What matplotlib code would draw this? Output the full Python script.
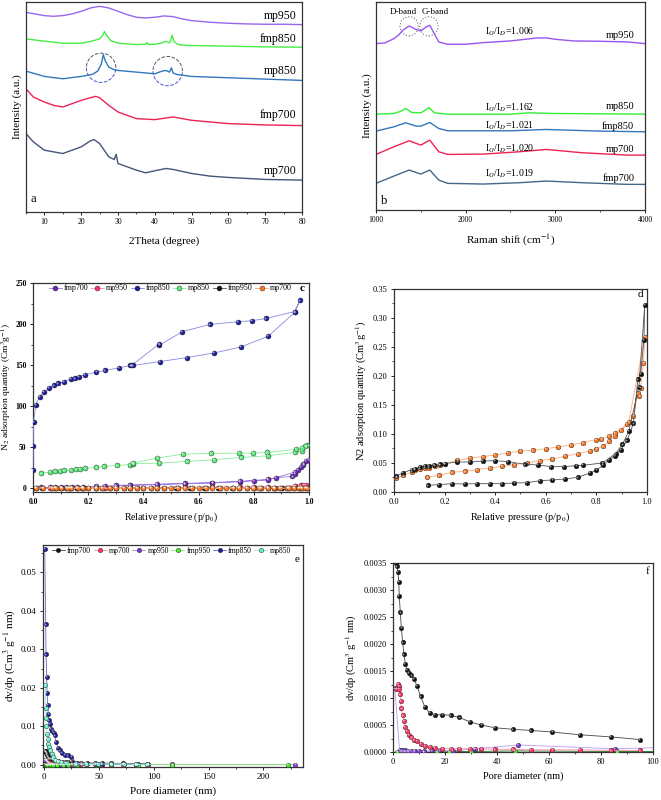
import matplotlib
matplotlib.use('Agg')
import matplotlib.pyplot as plt
from matplotlib.patches import Ellipse, Arc
from matplotlib.transforms import ScaledTranslation
from matplotlib.ticker import AutoMinorLocator, FormatStrFormatter, NullLocator

plt.rcParams['font.family'] = ['Liberation Serif', 'DejaVu Serif']
plt.rcParams['mathtext.fontset'] = 'stix'

# ---------------- Panel a : XRD (arbitrary offset intensity) ----------------
xrd_mp950_x = [5, 7.5, 10, 12.5, 15, 17.5, 20, 22.5, 25, 27.5, 30, 32.5, 35, 37.5, 40, 42.5, 45, 47.5, 50, 55, 60, 65, 70, 75, 80]
xrd_mp950_y = [605, 600, 595, 593, 595, 600, 608, 618, 623, 618, 608, 598, 590, 588, 590, 594, 592, 585, 580, 575, 572, 570, 569, 569, 568]
xrd_fmp850_x = [5, 10, 15, 20, 22.5, 25, 25.8, 26.3, 27, 28, 30, 35, 37.5, 37.8, 38.3, 40, 42, 43, 43.8, 44.3, 44.7, 45.2, 46, 47, 50, 60, 70, 80]
xrd_fmp850_y = [525, 518, 512, 512, 517, 525, 535, 547, 535, 520, 512, 508, 509, 514, 508, 509, 513, 518, 513, 518, 536, 518, 510, 507, 505, 503, 501, 500]
xrd_mp850_x = [5, 10, 15, 20, 23, 24.5, 25.5, 26, 26.5, 27.5, 29, 30, 35, 40, 42, 43, 44, 44.5, 45, 46, 50, 60, 70, 80]
xrd_mp850_y = [428, 412, 405, 412, 418, 428, 450, 478, 460, 440, 432, 430, 425, 420, 428, 430, 425, 438, 422, 418, 412, 408, 404, 400]
xrd_fmp700_x = [5, 7, 10, 12.5, 15, 17.5, 20, 22.5, 24, 25, 27.5, 30, 35, 40, 45, 50, 55, 60, 70, 80]
xrd_fmp700_y = [375, 350, 335, 325, 320, 330, 340, 348, 352, 348, 325, 305, 285, 282, 290, 280, 275, 270, 266, 264]
xrd_mp700_x = [5, 7, 10, 12.5, 15, 17.5, 20, 22.5, 23.5, 25, 27.5, 29, 29.5, 30, 35, 37.5, 40, 43, 45, 50, 55, 60, 70, 80]
xrd_mp700_y = [240, 215, 190, 185, 180, 190, 200, 218, 222, 210, 170, 162, 178, 150, 130, 122, 128, 135, 132, 120, 112, 108, 102, 100]
xrd_labels = ['mp950', 'fmp850', 'mp850', 'fmp700', 'mp700']
xrd_label_y = [595, 525, 428, 295, 128]

# ---------------- Panel b : Raman ----------------
ram_mp950_x = [1000, 1100, 1200, 1250, 1300, 1370, 1450, 1500, 1560, 1600, 1650, 1700, 1800, 2000, 2200, 2500, 2800, 2900, 3000, 3200, 3500, 3800, 4000]
ram_mp950_y = [500, 502, 515, 525, 540, 553, 542, 538, 550, 555, 530, 505, 498, 498, 503, 508, 517, 517, 513, 508, 507, 505, 500]
ram_mp850_x = [1000, 1200, 1280, 1330, 1400, 1500, 1550, 1590, 1650, 1800, 2500, 2700, 3000, 4000]
ram_mp850_y = [288, 290, 297, 305, 293, 292, 300, 308, 292, 288, 288, 292, 290, 288]
ram_fmp850_x = [1000, 1200, 1330, 1450, 1500, 1600, 1700, 1800, 2500, 2900, 3500, 4000]
ram_fmp850_y = [237, 250, 262, 252, 252, 263, 245, 238, 238, 242, 237, 235]
ram_mp700_x = [1000, 1200, 1370, 1500, 1600, 1700, 1800, 2200, 2600, 2900, 3300, 3800, 4000]
ram_mp700_y = [167, 190, 208, 195, 210, 175, 167, 168, 175, 182, 172, 165, 165]
ram_fmp700_x = [1000, 1200, 1370, 1500, 1600, 1700, 1800, 2200, 2600, 2900, 3300, 3800, 4000]
ram_fmp700_y = [80, 102, 120, 108, 120, 90, 80, 78, 82, 87, 82, 77, 77]
ram_labels = ['mp950', 'mp850', 'fmp850', 'mp700', 'fmp700']
ram_label_y = [525, 310, 252, 183, 95]
ram_ratios = ['1.006', '1.162', '1.021', '1.020', '1.019']
ram_ratio_y = [535, 308, 252, 185, 110]

# ---------------- Panel c / d : N2 isotherms ----------------
iso_fmp850_x = [0.0, 0.001, 0.002, 0.01, 0.024, 0.04, 0.058, 0.075, 0.091, 0.111, 0.136, 0.151, 0.167, 0.188, 0.23, 0.26, 0.312, 0.353, 0.363,
                0.46, 0.558, 0.657, 0.753, 0.852, 0.948, 0.967, 0.948, 0.845, 0.793, 0.742, 0.642, 0.541, 0.458, 0.456, 0.357]
iso_fmp850_y = [22.7, 51.8, 80.5, 102, 111.7, 117.3, 122, 125.4, 127.8, 130, 133, 134, 136, 138.3, 141.6, 143.6, 146.8, 149.7, 149.7,
                154.5, 159.4, 165, 172.3, 185.3, 214.4, 229, 215.5, 207, 204.3, 203, 199.8, 191, 174.4, 175.6, 149.7]
iso_mp850_x = [0.03, 0.06, 0.079, 0.097, 0.111, 0.136, 0.157, 0.17, 0.188, 0.23, 0.257, 0.303, 0.351, 0.363, 0.458, 0.557, 0.654, 0.753, 0.85,
               0.948, 0.975, 0.993, 0.987, 0.975, 0.954, 0.848, 0.796, 0.745, 0.644, 0.542, 0.451, 0.363]
iso_mp850_y = [18.2, 19.8, 20.6, 21.4, 21.8, 22.7, 23, 23.5, 24.3, 25.5, 26.7, 27.9, 29, 30, 30.7, 32.8, 34.8, 37.6, 39.6,
               43.7, 46, 52.2, 51, 49, 47.7, 43.7, 42.9, 42.9, 42.5, 41.7, 36.8, 31]
iso_fmp700_x = [0.03, 0.06, 0.08, 0.1, 0.12, 0.14, 0.16, 0.18, 0.23, 0.26, 0.3, 0.35, 0.45, 0.55, 0.65, 0.75, 0.8, 0.85, 0.88, 0.94, 0.95,
                0.96, 0.97, 0.98, 0.99, 1.0, 0.98, 0.95, 0.85, 0.75, 0.65, 0.55, 0.45, 0.35, 0.3]
iso_fmp700_y = [1, 1.2, 1.4, 1.5, 1.6, 1.8, 2, 2.1, 2.4, 2.6, 3, 3.5, 4.5, 5.5, 6.5, 8, 9.5, 11, 13, 14.5, 18,
                22, 26, 30, 33, 35, 28, 20, 10, 8.5, 7, 6, 5, 4, 3.5]
iso_mp950_x = [0.01, 0.06, 0.08, 0.1, 0.13, 0.16, 0.18, 0.23, 0.26, 0.3, 0.35, 0.45, 0.55, 0.65, 0.75, 0.8, 0.85, 0.95, 0.97, 0.99, 0.98, 0.95]
iso_mp950_y = [0.2, 0.3, 0.3, 0.4, 0.4, 0.5, 0.5, 0.6, 0.6, 0.7, 0.8, 0.9, 1.0, 1.2, 1.5, 1.7, 2.0, 3.0, 3.5, 4.5, 4.0, 3.0]
iso_fmp950_x = [0.133, 0.178, 0.229, 0.279, 0.328, 0.378, 0.428, 0.476, 0.525, 0.576, 0.626, 0.676, 0.726, 0.775, 0.800, 0.826, 0.850,
                0.874, 0.896, 0.922, 0.946, 0.964, 0.975, 0.988, 0.991,
                0.968, 0.928, 0.903, 0.876, 0.824, 0.747, 0.721, 0.671, 0.620, 0.570, 0.518, 0.450, 0.400, 0.351, 0.301, 0.251,
                0.201, 0.180, 0.159, 0.139, 0.121, 0.103, 0.083, 0.070, 0.034, 0.010]
iso_fmp950_y = [0.0115, 0.0126, 0.0144, 0.0138, 0.0144, 0.0144, 0.0144, 0.0155, 0.0160, 0.0195, 0.0207, 0.0224, 0.0253, 0.0328, 0.0374,
                0.0460, 0.0550, 0.0626, 0.0730, 0.0890, 0.1180, 0.1940, 0.2035, 0.2615, 0.3220,
                0.1816, 0.1046, 0.0820, 0.0660, 0.0500, 0.0460, 0.0454, 0.0437, 0.0437, 0.0466, 0.0477, 0.0523, 0.0540, 0.0534, 0.0517,
                0.0517, 0.0489, 0.0477, 0.0466, 0.0454, 0.0443, 0.0431, 0.0397, 0.0385, 0.0328, 0.0270]
iso_mp700_x = [0.132, 0.178, 0.229, 0.279, 0.328, 0.378, 0.428, 0.476, 0.525, 0.576, 0.626, 0.676, 0.726, 0.775, 0.800, 0.826, 0.850,
               0.874, 0.922, 0.946, 0.964, 0.970, 0.975, 0.986, 0.991,
               0.928, 0.896, 0.872, 0.850, 0.820, 0.797, 0.747, 0.699, 0.650, 0.600, 0.550, 0.500, 0.450, 0.400, 0.351, 0.301,
               0.251, 0.201, 0.182, 0.162, 0.139, 0.122, 0.103, 0.083, 0.070, 0.037, 0.010]
iso_mp700_y = [0.0253, 0.0287, 0.0339, 0.0356, 0.0385, 0.0414, 0.0443, 0.0471, 0.0500, 0.0540, 0.0569, 0.0615, 0.0661, 0.0707, 0.0747,
               0.0787, 0.0874, 0.0960, 0.1170, 0.1310, 0.1700, 0.1650, 0.1790, 0.2220, 0.2667,
               0.1207, 0.1075, 0.1023, 0.0960, 0.0914, 0.0902, 0.0850, 0.0810, 0.0776, 0.0747, 0.0718, 0.0707, 0.0672, 0.0638,
               0.0610, 0.0586, 0.0546, 0.0489, 0.0466, 0.0443, 0.0420, 0.0414, 0.0397, 0.0385, 0.0345, 0.0287, 0.0236]

# ---------------- Panel e / f : pore size distribution ----------------
psd_fmp850_x = [0.6, 1.5, 1.8, 2.4, 2.7, 3.3, 3.9, 4.5, 5.4, 6.3, 7.5, 8.8, 9.7, 10.9, 12.7, 14.2, 16, 18.7, 21.8, 24.8, 30, 38, 47, 53, 61, 73, 84, 94]
psd_fmp850_y = [0.0561, 0.0365, 0.0287, 0.0228, 0.0187, 0.0156, 0.0133, 0.0115, 0.0107, 0.0094, 0.0088, 0.0083, 0.0076, 0.0059, 0.0044,
                0.0037, 0.0031, 0.0026, 0.0024, 0.0021, 0.0004, 0.0003, 0.0003, 0.0003, 0.0002, 0.0002, 0.0001, 0.0001]
psd_mp850_x = [1.2, 1.5, 1.8, 2.1, 2.7, 3.3, 3.9, 4.8, 5.7, 7, 8.5, 10.3, 12.7, 15.7, 20, 27.8, 38, 49, 61, 73, 84, 94]
psd_mp850_y = [0.0208, 0.0148, 0.0122, 0.0101, 0.0081, 0.0067, 0.0055, 0.0046, 0.0037, 0.0029, 0.0020, 0.0013, 0.0010, 0.0007, 0.0004,
               0.0003, 0.0002, 0.0002, 0.0002, 0.0002, 0.0001, 0.0001]
psd_fmp700_x = [1.0, 1.5, 1.9, 2.2, 2.4, 2.8, 3.2, 3.7, 4.2, 4.7, 5.4, 6.2, 7.1, 8.1, 9.2, 10.6, 12.3, 14.1, 16.2, 19, 22.2, 25.5, 29.5,
                34, 39.1, 46.2, 53, 61.3, 71.8, 83.7, 95.1]
psd_fmp700_y = [0.00350, 0.00344, 0.00334, 0.00315, 0.00289, 0.00259, 0.00230, 0.00203, 0.00181, 0.00164, 0.00152, 0.00146, 0.00142,
                0.00135, 0.00123, 0.00103, 0.00083, 0.00072, 0.00069, 0.00069, 0.00068, 0.00064, 0.00056, 0.00050, 0.00045, 0.00042,
                0.00040, 0.00037, 0.00032, 0.00028, 0.00023]
psd_mp700_x = [1.3, 1.9, 2.2, 2.4, 2.7, 2.9, 3.2, 3.7, 4.2, 4.7, 5.4, 6.2, 7.1, 8.1, 9.2, 10.6, 12.3, 14.1, 16.2, 19, 22.2, 25.5, 29.5,
               34, 39.1, 46.2, 53, 61.3, 71.8, 83.7, 95.1]
psd_mp700_y = [0.00117, 0.00126, 0.00123, 0.00117, 0.00107, 0.00095, 0.00081, 0.00068, 0.00057, 0.00047, 0.00039, 0.00032, 0.00027,
               0.00023, 0.00020, 0.00015, 0.00012, 0.00010, 0.00007, 0.00006, 0.00006, 0.00006, 0.00006, 0.00006, 0.00005, 0.00005,
               0.00004, 0.00004, 0.00004, 0.00003, 0.00003]
psd_mp950_x = [0.7, 2.5, 3.5, 4.5, 5.5, 7, 8.5, 10, 12, 15, 18, 23, 31.4, 48, 85.3, 117, 229]
psd_mp950_y = [0.00118, 0.00004, 0.00003, 0.00003, 0.00002, 0.00002, 0.00002, 0.00002, 0.00001, 0.00003, 0.00003, 0.00002, 0.00006,
               0.00013, 0.00006, 0.00010, 0.00000]
psd_fmp950_x = [1.5, 2, 3, 4, 5, 6, 8, 12, 17, 21.7, 30, 47, 86, 117, 222]
psd_fmp950_y = [0.0, 0.0, 0.0, 0.0, 0.0, 0.0, 0.0, 0.0, 0.0, 0.000005, 0.00001, 0.00002, 0.00001, 0.00001, 0.00001]

# ---------------- colours ----------------
C_PURPLE = '#6a2ab8'
C_RED = '#ff3366'
C_NAVY = '#1c1c9c'
C_LGREEN = '#55ee77'
C_BLACK = '#111111'
C_ORANGE = '#ff7722'
C_AQUA = '#66eec8'
C_GREEN = '#44ee22'

fig = plt.figure(figsize=(6.61, 8.0), dpi=100)


def style(ax, fs=5.5, bold=False):
    ax.tick_params(direction='out', length=2.5, width=0.6, labelsize=fs, pad=2)
    ax.tick_params(which='minor', direction='out', length=1.5, width=0.5)
    for s in ax.spines.values():
        s.set_linewidth(0.9)
        s.set_color('#333333')
    if bold:
        for t in ax.get_xticklabels() + ax.get_yticklabels():
            t.set_fontweight('bold')


def balls(ax, x, y, color, ms, lc=None, lw=0.6, label=None, edge='#222222'):
    ax.plot(x, y, '-', color=lc or color, lw=lw, marker='o', ms=ms, mfc=color, mec=edge,
            mew=0.3, label=label, zorder=3)
    off = ScaledTranslation(-ms * 0.17 / 72, ms * 0.17 / 72, fig.dpi_scale_trans)
    ax.plot(x, y, 'o', ms=ms * 0.42, mfc='white', mec='none', alpha=0.55,
            transform=ax.transData + off, zorder=4)


# ================= a =================
ax = fig.add_axes([0.0393, 0.735, 0.4176, 0.2625])
cols_a = ['#9966ee', '#44ee44', '#3377bb', '#ee2255', '#445577']
xs_a = [xrd_mp950_x, xrd_fmp850_x, xrd_mp850_x, xrd_fmp700_x, xrd_mp700_x]
ys_a = [xrd_mp950_y, xrd_fmp850_y, xrd_mp850_y, xrd_fmp700_y, xrd_mp700_y]
for xx, yy, c in zip(xs_a, ys_a, cols_a):
    ax.plot(xx, yy, color=c, lw=1.0)
for lab, ly in zip(xrd_labels, xrd_label_y):
    ax.text(78.5, ly, lab, ha='right', va='center', fontsize=8.5)
for cx, cy in [(25.4, 438), (43.5, 428)]:
    ax.add_patch(Arc((cx, cy), 8.0, 88, theta1=0, theta2=180, ls='--', lw=0.7, color='#555566'))
    ax.add_patch(Arc((cx, cy), 8.0, 88, theta1=180, theta2=360, ls='--', lw=0.7, color='#4455cc'))
ax.text(6.3, 42, 'a', fontsize=9, va='center')
ax.set_xlim(5, 80)
ax.set_ylim(4, 636)
ax.set_xticks([10, 20, 30, 40, 50, 60, 70, 80])
ax.xaxis.set_minor_locator(AutoMinorLocator(2))
ax.yaxis.set_major_locator(NullLocator())
ax.set_xlabel('2Theta (degree)', fontsize=8, labelpad=7)
ax.set_ylabel('Intensity (a.u.)', fontsize=8, labelpad=3)
style(ax)

# ================= b =================
ax = fig.add_axes([0.5688, 0.7375, 0.407, 0.26])
cols_b = ['#9955ee', '#33ee33', '#3377bb', '#ee2255', '#446688']
xs_b = [ram_mp950_x, ram_mp850_x, ram_fmp850_x, ram_mp700_x, ram_fmp700_x]
ys_b = [ram_mp950_y, ram_mp850_y, ram_fmp850_y, ram_mp700_y, ram_fmp700_y]
for xx, yy, c in zip(xs_b, ys_b, cols_b):
    ax.plot(xx, yy, color=c, lw=1.0)
for lab, ly in zip(ram_labels, ram_label_y):
    ax.text(3880, ly, lab, ha='right', va='center', fontsize=7.5)
for r, ry in zip(ram_ratios, ram_ratio_y):
    ax.text(2220, ry, r'I$_G$/I$_D$=' + r, ha='left', va='center', fontsize=7)
for cx in [1370, 1590]:
    ax.add_patch(Ellipse((cx, 552), 205, 58, fill=False, ls=':', lw=0.8, color='#777777'))
ax.text(1310, 595, 'D-band', ha='center', va='center', fontsize=6.5)
ax.text(1660, 595, 'G-band', ha='center', va='center', fontsize=6.5)
ax.text(1060, 28, 'b', fontsize=9, va='center')
ax.set_xlim(1000, 4000)
ax.set_ylim(0, 625)
ax.set_xticks([1000, 2000, 3000, 4000])
ax.xaxis.set_minor_locator(AutoMinorLocator(2))
ax.yaxis.set_major_locator(NullLocator())
ax.set_xlabel('Raman shift (cm$^{-1}$)', fontsize=8, labelpad=6)
ax.set_ylabel('Intensity (a.u.)', fontsize=8, labelpad=3)
style(ax)

# ================= c =================
ax = fig.add_axes([0.0499, 0.385, 0.4176, 0.261])
balls(ax, iso_fmp700_x, iso_fmp700_y, C_PURPLE, 3.6, lc='#9a78e0', label='fmp700')
balls(ax, iso_mp950_x, iso_mp950_y, C_RED, 3.6, lc='#ff8aa8', label='mp950')
balls(ax, iso_fmp850_x, iso_fmp850_y, C_NAVY, 3.6, lc='#8888dd', label='fmp850')
balls(ax, iso_mp850_x, iso_mp850_y, C_LGREEN, 3.6, lc='#88ee99', label='mp850')
balls(ax, iso_fmp950_x, iso_fmp950_y, C_BLACK, 3.6, lc='#555555', label='fmp950')
balls(ax, iso_mp700_x, iso_mp700_y, C_ORANGE, 3.6, lc='#ffaa77', label='mp700')
ax.set_xlim(0, 1.0)
ax.set_ylim(-4.5, 250)
ax.set_xticks([0, 0.2, 0.4, 0.6, 0.8, 1.0])
ax.set_yticks([0, 50, 100, 150, 200, 250])
ax.xaxis.set_major_formatter(FormatStrFormatter('%.1f'))
ax.xaxis.set_minor_locator(AutoMinorLocator(2))
ax.yaxis.set_minor_locator(AutoMinorLocator(2))
ax.legend(loc='upper left', bbox_to_anchor=(0.045, 1.01), ncol=6, frameon=False, fontsize=5.8,
          handlelength=1.6, handletextpad=0.25, columnspacing=0.35, borderaxespad=0.2, borderpad=0.2)
ax.text(0.985, 243, 'c', fontsize=8, ha='right', va='center', fontweight='bold')
ax.set_xlabel('Relative pressure (p/p$_0$)', fontsize=7, labelpad=3)
ax.set_ylabel('N$_2$ adsorption quantity (Cm$^3$g$^{-1}$)', fontsize=6.8, labelpad=1)
style(ax, fs=5.5, bold=True)

# ================= d =================
ax = fig.add_axes([0.596, 0.385, 0.3828, 0.254])
balls(ax, iso_mp700_x, iso_mp700_y, C_ORANGE, 3.4, lc='#ffaa77')
balls(ax, iso_fmp950_x, iso_fmp950_y, C_BLACK, 3.4, lc='#555555')
ax.set_xlim(0, 1.0)
ax.set_ylim(0, 0.35)
ax.set_xticks([0, 0.2, 0.4, 0.6, 0.8, 1.0])
ax.set_yticks([0, 0.05, 0.1, 0.15, 0.2, 0.25, 0.3, 0.35])
ax.xaxis.set_major_formatter(FormatStrFormatter('%.1f'))
ax.yaxis.set_major_formatter(FormatStrFormatter('%.2f'))
ax.xaxis.set_minor_locator(AutoMinorLocator(2))
ax.yaxis.set_minor_locator(AutoMinorLocator(2))
ax.text(0.985, 0.341, 'd', fontsize=8, ha='right', va='center')
ax.set_xlabel('Relative pressure (p/p$_0$)', fontsize=7.5, labelpad=3)
ax.set_ylabel('N2 adsorption quantity (Cm$^3$g$^{-1}$)', fontsize=7.5, labelpad=3)
style(ax, fs=6)

# ================= e =================
ax = fig.add_axes([0.065, 0.04125, 0.3933, 0.2775])
balls(ax, psd_fmp700_x, psd_fmp700_y, C_BLACK, 3.2, lc='#444444', label='fmp700')
balls(ax, psd_mp700_x, psd_mp700_y, C_RED, 3.2, lc='#ff8aa8', label='mp700')
balls(ax, psd_mp950_x, psd_mp950_y, '#7733cc', 3.2, lc='#aa88ee', label='mp950')
balls(ax, psd_fmp950_x, psd_fmp950_y, C_GREEN, 3.2, lc='#88ee66', label='fmp950')
balls(ax, psd_fmp850_x, psd_fmp850_y, C_NAVY, 3.2, lc='#6666cc', label='fmp850')
balls(ax, psd_mp850_x, psd_mp850_y, C_AQUA, 3.2, lc='#99eedd', label='mp850')
ax.set_xlim(-1, 236)
ax.set_ylim(-0.0006, 0.0571)
ax.set_xticks([0, 50, 100, 150, 200])
ax.set_yticks([0, 0.01, 0.02, 0.03, 0.04, 0.05])
ax.yaxis.set_major_formatter(FormatStrFormatter('%.2f'))
ax.xaxis.set_minor_locator(AutoMinorLocator(2))
ax.yaxis.set_minor_locator(AutoMinorLocator(2))
ax.legend(loc='upper left', bbox_to_anchor=(0.02, 1.01), ncol=6, frameon=False, fontsize=5.5,
          handlelength=1.7, handletextpad=0.25, columnspacing=0.35, borderaxespad=0.3, borderpad=0.2)
ax.text(0.985, 0.935, 'e', transform=ax.transAxes, fontsize=8, ha='right', va='center')
ax.set_xlabel('Pore diameter (nm)', fontsize=8, labelpad=4)
ax.set_ylabel('dv/dp (Cm$^3$ g$^{-1}$ nm)', fontsize=8, labelpad=3)
style(ax, fs=6.5)

# ================= f =================
ax = fig.add_axes([0.5946, 0.06, 0.3933, 0.236])
balls(ax, psd_fmp950_x, psd_fmp950_y, C_GREEN, 3.3, lc='#226622')
balls(ax, psd_mp950_x, psd_mp950_y, '#7733cc', 3.3, lc='#bb99ee')
balls(ax, psd_mp700_x, psd_mp700_y, C_RED, 3.3, lc='#ff8aa8')
balls(ax, psd_fmp700_x, psd_fmp700_y, C_BLACK, 3.3, lc='#444444')
ax.set_xlim(0, 100)
ax.set_ylim(0, 0.0035)
ax.set_xticks([0, 20, 40, 60, 80, 100])
ax.set_yticks([0, 0.0005, 0.001, 0.0015, 0.002, 0.0025, 0.003, 0.0035])
ax.yaxis.set_major_formatter(FormatStrFormatter('%.4f'))
ax.xaxis.set_minor_locator(AutoMinorLocator(2))
ax.yaxis.set_minor_locator(AutoMinorLocator(2))
ax.text(98.5, 0.00334, 'f', fontsize=8, ha='right', va='center')
ax.set_xlabel('Pore diameter (nm)', fontsize=7.5, labelpad=4)
ax.set_ylabel('dv/dp (Cm$^3$ g$^{-1}$ nm)', fontsize=7.5, labelpad=3)
style(ax, fs=6)

fig.savefig('out.png', dpi=100)
